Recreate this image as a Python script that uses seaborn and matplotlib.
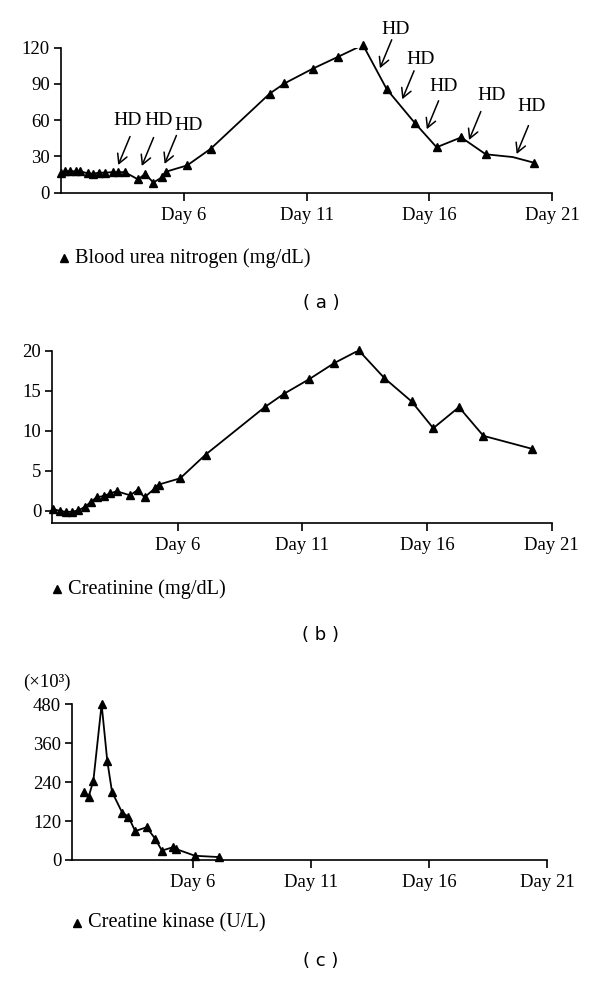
import matplotlib
matplotlib.use('Agg')
import matplotlib.pyplot as plt
from matplotlib.lines import Line2D
import pandas as pd
import seaborn as sns

# ---- data ----
bun_day = [1.0, 1.16, 1.35, 1.6, 1.77, 2.1, 2.29, 2.56, 2.8, 3.1, 3.32, 3.6,
           4.14, 4.43, 4.76, 5.13, 5.28, 6.14, 7.1, 9.5, 10.1, 11.25, 12.3,
           13.3, 14.27, 15.4, 16.3, 17.3, 18.3, 19.4, 20.27]
bun_val = [16, 17.7, 17.7, 17.7, 17.7, 16, 15.7, 16.6, 16.6, 17, 17, 17,
           11, 15.7, 8.3, 13, 17.4, 22.6, 36.4, 82, 90.4, 102.6, 112.6,
           122.3, 85.6, 58, 37.6, 45.8, 31.8, 29.5, 24.8]
bun_marker = [True] * 29 + [False, True]

cre_day = [1.01, 1.28, 1.52, 1.75, 2.02, 2.29, 2.51, 2.75, 3.05, 3.29, 3.56,
           4.09, 4.39, 4.67, 5.1, 5.23, 6.1, 7.12, 9.49, 10.25, 11.28, 12.28,
           13.26, 14.29, 15.38, 16.25, 17.28, 18.26, 20.22]
cre_val = [0.25, 0.0, -0.1, -0.1, 0.08, 0.54, 1.12, 1.71, 1.88, 2.2, 2.46,
           1.96, 2.62, 1.71, 2.87, 3.29, 4.08, 7.04, 12.96, 14.6, 16.46, 18.46,
           20.04, 16.58, 13.67, 10.33, 12.96, 9.38, 7.75]

ck_day = [1.4, 1.6, 1.8, 2.15, 2.39, 2.59, 3.02, 3.28, 3.57, 4.05, 4.41,
          4.7, 5.15, 5.29, 6.1, 7.13]
ck_val = [209, 195, 244, 480, 305, 210, 146, 134, 89, 101, 66,
          29, 39, 34, 13, 9]

hd_day = [3.33, 4.29, 5.22, 13.99, 14.9, 15.9, 17.62, 19.56]
hd_val = [22.9, 22.1, 23.8, 103, 77.3, 52.5, 43.6, 32]
hd_label = "HD"
# text offset from arrow head, in points
hd_text_off = [(7, 32), (12, 33), (17, 28), (11, 28), (13, 29), (12, 31), (16, 32), (11, 34)]

day_ticks = [6, 11, 16, 21]
day_labels = ["Day 6", "Day 11", "Day 16", "Day 21"]

bun_ticks = [0, 30, 60, 90, 120]
cre_ticks = [0, 5, 10, 15, 20]
ck_ticks = [0, 120, 240, 360, 480]

bun_name = "Blood urea nitrogen (mg/dL)"
cre_name = "Creatinine (mg/dL)"
ck_name = "Creatine kinase (U/L)"
ck_unit = "(\u00d710\u00b3)"
panel_tags = ["( a )", "( b )", "( c )"]

sns.set_theme(style="ticks")
plt.rcParams['font.family'] = ['Liberation Serif', 'DejaVu Serif']
plt.rcParams['text.color'] = 'black'
plt.rcParams['axes.linewidth'] = 1.2
plt.rcParams['xtick.major.width'] = 1.2
plt.rcParams['ytick.major.width'] = 1.2

W, H = 600, 983
fig = plt.figure(figsize=(6, 9.83), dpi=100)


def px_box(left, right, top, bottom):
    return [left / W, 1 - bottom / H, (right - left) / W, (bottom - top) / H]


def draw_panel(rect, days, vals, xlim, ylim, yticks, markers=None):
    ax = fig.add_axes(rect)
    df = pd.DataFrame({"day": days, "val": vals})
    sns.lineplot(data=df, x="day", y="val", ax=ax, color="black", linewidth=1.3,
                 sort=False, estimator=None)
    if markers is None:
        markers = [True] * len(days)
    mdf = df[pd.Series(markers)]
    ax.plot(mdf["day"], mdf["val"], linestyle="none", marker="^", color="black",
            markersize=5.2, clip_on=False, zorder=3)
    ax.set_xlim(*xlim)
    ax.set_ylim(*ylim)
    ax.set_xticks(day_ticks)
    ax.set_xticklabels(day_labels)
    ax.set_yticks(yticks)
    ax.set_xlabel("")
    ax.set_ylabel("")
    ax.tick_params(axis="x", length=6, pad=4, labelsize=13.5, colors="black")
    ax.tick_params(axis="y", length=5, pad=3, labelsize=13.5, colors="black")
    for s in ["left", "bottom"]:
        ax.spines[s].set_color("black")
    sns.despine(ax=ax)
    return ax


def legend_entry(x, y, text):
    fig.add_artist(Line2D([x / W], [1 - y / H], marker="^", color="black",
                          markersize=6, linestyle="none", transform=fig.transFigure))
    fig.text((x + 11) / W, 1 - y / H, text, ha="left", va="center", fontsize=14.7,
             color="black")


def tag(y, text):
    fig.text(321 / W, 1 - y / H, text, ha="center", va="center", fontsize=13,
             family=["DejaVu Sans"], color="black")


# (a) blood urea nitrogen
ax_a = draw_panel(px_box(61, 552, 47.7, 192.7), bun_day, bun_val, (1, 21), (0, 120),
                  bun_ticks, markers=bun_marker)
for d, v, off in zip(hd_day, hd_val, hd_text_off):
    ax_a.annotate("", xy=(d, v), xytext=(8.5, 20.5), textcoords="offset points",
                  arrowprops=dict(arrowstyle="->,head_length=0.55,head_width=0.3",
                                  color="black", lw=1.1, shrinkA=0, shrinkB=0))
    ax_a.annotate(hd_label, xy=(d, v), xytext=off, textcoords="offset points",
                  ha="center", va="center", fontsize=14, color="black",
                  annotation_clip=False)
legend_entry(64, 258, bun_name)
tag(303, panel_tags[0])

# (b) creatinine
draw_panel(px_box(52.3, 551.7, 350.7, 522.7), cre_day, cre_val, (0.97, 21), (-1.46, 20),
           cre_ticks)
legend_entry(57, 589, cre_name)
tag(635, panel_tags[1])

# (c) creatine kinase
ax_c = draw_panel(px_box(72.3, 547.3, 704.3, 860), ck_day, ck_val, (0.91, 21), (0, 480),
                  ck_ticks)
fig.text(47 / W, 1 - 682 / H, ck_unit, ha="center", va="center", fontsize=13.5,
         color="black")
legend_entry(77, 923, ck_name)
tag(961, panel_tags[2])

fig.savefig("out.png", dpi=100, facecolor="white")
